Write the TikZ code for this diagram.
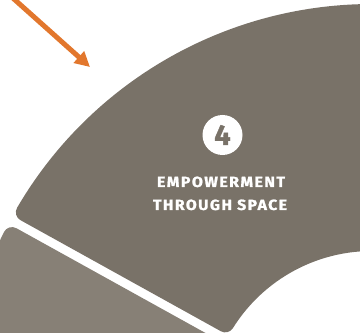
\documentclass[tikz,border=0pt]{standalone}
\usepackage{fontspec}
\setsansfont{Fira Sans}[BoldFeatures={FakeBold=1.2}]
\newfontfamily\stagefont[LetterSpace=9,BoldFeatures={FakeBold=1.2}]{Fira Sans}
\usepackage{graphicx}
\usetikzlibrary{arrows.meta}
\definecolor{ringdark}{RGB}{121,114,104}
\definecolor{ringlight}{RGB}{135,128,118}
\definecolor{arroworange}{RGB}{226,119,45}
\tikzset{
  ringpart/.style={fill=#1,draw=#1,line width=18bp,line join=round},
  stagetext/.style={text=white,inner sep=0pt,anchor=base,font=\stagefont\bfseries},
}

\begin{document}
\begin{tikzpicture}[x=1bp,y=1bp,>=Stealth]
\useasboundingbox (0,0) rectangle (360,333);
\clip (0,0) rectangle (360,333);
\coordinate (C) at (372,-82);
% ring segments (rounded by the thick stroke)
\draw[ringpart=ringlight] ([shift={(153.57:402)}]C) arc[start angle=153.57,end angle=200,radius=402bp]
  -- ([shift={(200:173)}]C) arc[start angle=200,end angle=156.97,radius=173bp] -- cycle;
\draw[ringpart=ringdark] ([shift={(149.72:402)}]C) arc[start angle=149.72,end angle=40,radius=402bp]
  -- ([shift={(40:173)}]C) arc[start angle=40,end angle=148.02,radius=173bp] -- cycle;
% label
\node[circle,fill=white,minimum size=40bp,inner sep=0pt,text=ringdark,font=\sffamily\bfseries] (num) at (222.5,198) {\resizebox{!}{20bp}{4}};
\node[stagetext] (title1) at (221,146) {\resizebox{128bp}{10.5bp}{EMPOWERMENT}};
\node[stagetext] (title2) at (220,123) {\resizebox{134bp}{10.5bp}{THROUGH SPACE}};
% arrow
\coordinate (arrowtail) at (5,342);
\coordinate (arrowtip) at (90,266);
\draw[arroworange,line width=5bp,-{Triangle[length=15bp,width=15bp]}] (arrowtail) -- (arrowtip);
\end{tikzpicture}
\end{document}
